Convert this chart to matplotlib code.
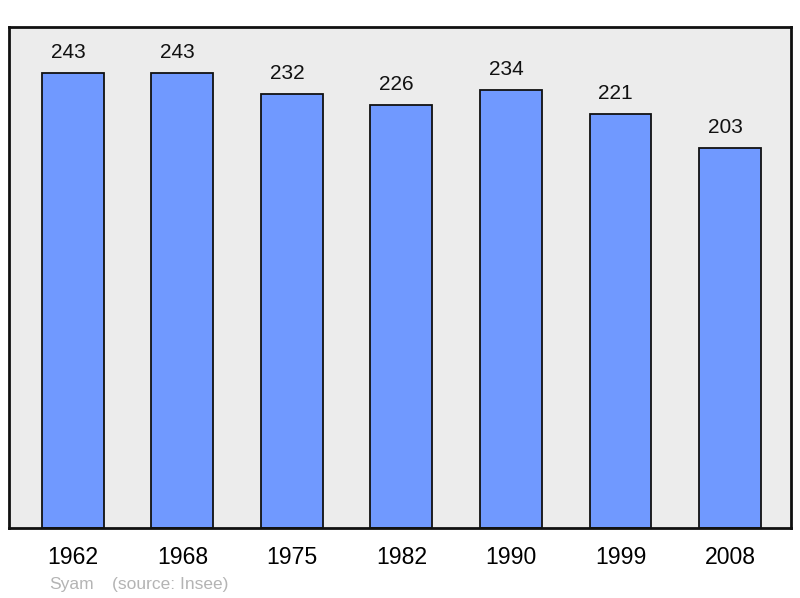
import matplotlib
matplotlib.use("Agg")
import matplotlib.pyplot as plt

# data
years = ["1962", "1968", "1975", "1982", "1990", "1999", "2008"]
population = [243, 243, 232, 226, 234, 221, 203]

plt.rcParams['font.family'] = ['Liberation Sans', 'DejaVu Sans']

fig = plt.figure(figsize=(8.0, 5.98), dpi=100)
ax = fig.add_axes([9/800, 1 - 528/598, 782/800, 501/598])
ax.set_facecolor('#ececec')

x = list(range(len(years)))
ax.bar(x, population, width=0.566, color='#7099ff', edgecolor='#111111',
       linewidth=1.3, zorder=2)

# labels sit a little left of the bar centres in the original
for xi, v in zip(x, population):
    ax.annotate(str(v), (xi, v), xytext=(-3.5, 8), textcoords='offset points',
                ha='center', va='bottom', fontsize=15, color='#111111')

ax.set_xlim(-0.584, 6.557)
ax.set_ylim(0, 267.6)
ax.set_yticks([])
ax.set_xticks(x)
ax.set_xticklabels(years, fontsize=16.6)
ax.tick_params(axis='x', length=0, pad=13)
for s in ax.spines.values():
    s.set_linewidth(2)
    s.set_color('#111111')

fig.text(49/800, 1 - 585/598, "Syam", fontsize=12.5, color='#b4b4b4',
         ha='left', va='center')
fig.text(112/800, 1 - 585/598, "(source: Insee)", fontsize=12.5,
         color='#b4b4b4', ha='left', va='center')

fig.savefig("out.png", dpi=100)
